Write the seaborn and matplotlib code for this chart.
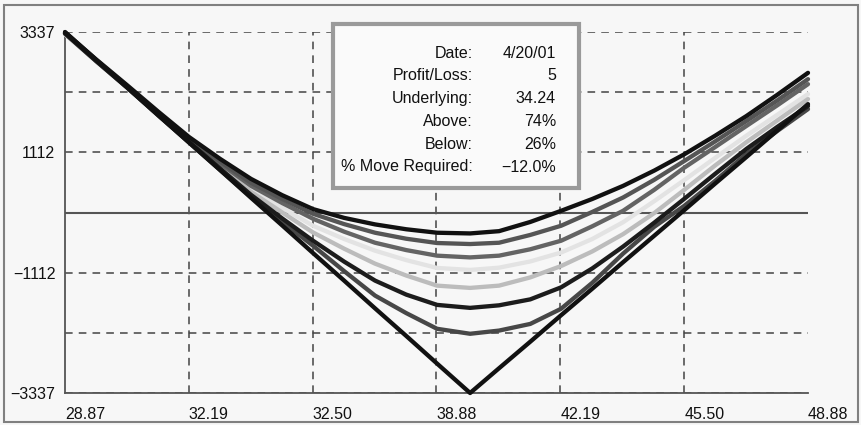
import matplotlib
matplotlib.use('Agg')
import matplotlib.pyplot as plt
import pandas as pd
import seaborn as sns
from matplotlib.patches import Rectangle

# underlying price (x) and P/L curves, furthest-from-expiry first
price = [28.87, 29.70, 30.54, 31.38, 32.21, 33.05, 33.88, 34.72, 35.55, 36.39, 37.22, 38.06, 38.89,
         39.78, 40.56, 41.40, 42.23, 43.07, 43.90, 44.74, 45.55, 46.38, 47.22, 48.05, 48.88]
pl_1 = [3330, 2835, 2355, 1865, 1396, 990, 621, 320, 63, -100, -220, -310, -374,
        -387, -345, -175, 31, 250, 492, 775, 1077, 1420, 1783, 2175, 2582]
pl_2 = [3314, 2820, 2336, 1840, 1359, 940, 548, 250, -24, -215, -374, -485, -564,
        -583, -559, -415, -245, 10, 277, 605, 953, 1315, 1691, 2070, 2465]
pl_3 = [3314, 2812, 2318, 1820, 1341, 905, 492, 175, -116, -355, -559, -695, -798,
        -830, -798, -680, -522, -255, 31, 420, 830, 1210, 1599, 1980, 2373]
pl_4 = [3296, 2805, 2318, 1810, 1322, 870, 437, 85, -245, -490, -706, -880, -1025,
        -1062, -1020, -905, -740, -490, -180, 210, 600, 1010, 1420, 1805, 2189]
pl_5 = [3296, 2800, 2309, 1805, 1313, 840, 382, 0, -369, -670, -946, -1165, -1352,
        -1394, -1352, -1200, -990, -720, -400, -10, 420, 870, 1300, 1700, 2097]
pl_6 = [3314, 2810, 2318, 1800, 1304, 810, 326, -110, -522, -909, -1259, -1518, -1708,
        -1763, -1716, -1606, -1384, -1034, -630, -188, 254, 715, 1175, 1581, 1968]
pl_7 = [3314, 2805, 2311, 1795, 1294, 785, 290, -170, -614, -1085, -1536, -1860, -2150,
        -2242, -2183, -2060, -1780, -1300, -760, -264, 124, 585, 1082, 1506, 1912]
pl_exp = [3337, 2826, 2315, 1804, 1294, 783, 272, -239, -750, -1261, -1772, -2282, -2793,
          -3337, -2879, -2389, -1899, -1409, -919, -429, 45, 535, 1025, 1515, 2004]

curve_names = ['t1', 't2', 't3', 't4', 't5', 't6', 't7', 'exp']
curve_colors = ['#111111', '#555555', '#646464', '#e3e3e3', '#bcbcbc', '#1c1c1c', '#474747', '#111111']

xtick_labels = ['28.87', '32.19', '32.50', '38.88', '42.19', '45.50', '48.88']
ytick_vals = [-3337, -1112, 1112, 3337]
ygrid_vals = [-3337, -2225, -1112, 1112, 2225, 3337]

info_labels = ['Date:', 'Profit/Loss:', 'Underlying:', 'Above:', 'Below:', '% Move Required:']
info_values = ['4/20/01', '5', '34.24', '74%', '26%', '\u221212.0%']

rows = []
for name, vals in zip(curve_names, [pl_1, pl_2, pl_3, pl_4, pl_5, pl_6, pl_7, pl_exp]):
    for p, v in zip(price, vals):
        rows.append({'price': p, 'pl': v, 'curve': name})
df = pd.DataFrame(rows)

sns.set_style('white')
plt.rcParams['font.family'] = ['Liberation Sans', 'DejaVu Sans']

fig = plt.figure(figsize=(8.62, 4.25), dpi=100, facecolor='#f7f7f7')
ax = fig.add_axes([65 / 862, 1 - 393 / 425, 743 / 862, 361 / 425])
ax.set_facecolor('#f7f7f7')

xmin, xmax = 28.87, 48.88
step = (xmax - xmin) / 6
xticks = [xmin + i * step for i in range(7)]

# grid
for y in ygrid_vals:
    ax.axhline(y, color='#444444', lw=1.1, ls=(0, (5, 4)), zorder=1)
for x in xticks[1:-1]:
    ax.axvline(x, color='#444444', lw=1.1, ls=(0, (5, 4)), zorder=1)
ax.axhline(0, color='#555555', lw=1.5, zorder=1)

order = ['t4', 't5', 't3', 't2', 't7', 't6', 't1', 'exp']
pal = dict(zip(curve_names, curve_colors))
for name in order:
    sns.lineplot(data=df[df['curve'] == name], x='price', y='pl', color=pal[name],
                 lw=3.1, ax=ax, legend=False, sort=False, clip_on=False, zorder=3)

ax.set_xlim(xmin, xmax)
ax.set_ylim(-3337, 3337)
ax.set_xticks(xticks)
ax.set_xticklabels(xtick_labels, ha='left', fontsize=11.5)
ax.set_yticks(ytick_vals)
ax.set_yticklabels([str(v).replace('-', '\u2212') for v in ytick_vals], fontsize=11.5)
ax.tick_params(axis='both', length=4, width=1, color='#555555', pad=3, labelcolor='#111111')
ax.tick_params(axis='x', pad=6)
ax.set_xlabel('')
ax.set_ylabel('')
for s in ['top', 'right']:
    ax.spines[s].set_visible(False)
for s in ['left', 'bottom']:
    ax.spines[s].set_color('#555555')
    ax.spines[s].set_linewidth(1.3)

# info box
box = Rectangle((333 / 862, 1 - 188 / 425), 246 / 862, 164 / 425, transform=fig.transFigure,
                facecolor='#fafafa', edgecolor='#9a9a9a', lw=3, zorder=5)
fig.patches.append(box)
for i, (lab, val) in enumerate(zip(info_labels, info_values)):
    y = 1 - (53 + i * 22.8) / 425
    fig.text(473 / 862, y, lab, ha='right', va='center', fontsize=11.5, color='#111111', zorder=6)
    fig.text(556 / 862, y, val, ha='right', va='center', fontsize=11.5, color='#111111', zorder=6)

# outer frame
fig.patches.append(Rectangle((4 / 862, 3 / 425), 854 / 862, 417 / 425, transform=fig.transFigure,
                             fill=False, edgecolor='#808080', lw=1.5))

fig.savefig('out.png', dpi=100, facecolor=fig.get_facecolor())
